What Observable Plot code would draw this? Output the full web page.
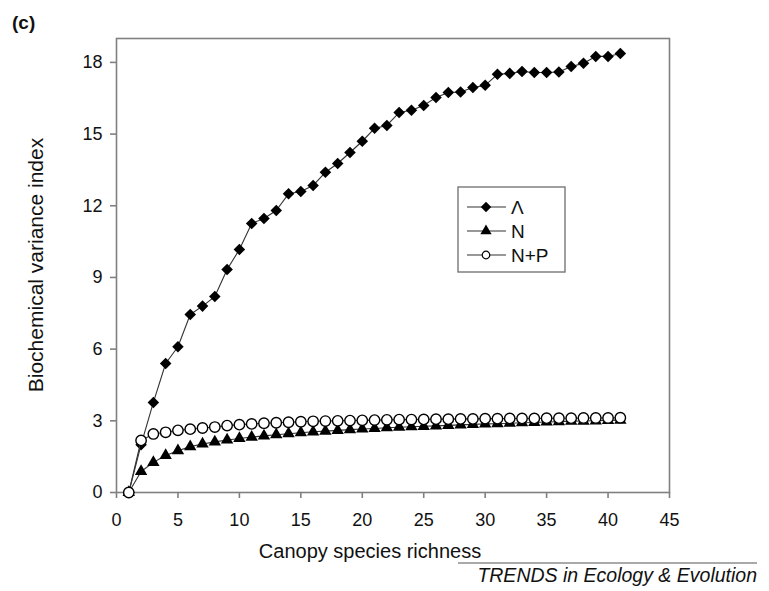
<!DOCTYPE html>
<html>
<head>
<meta charset="utf-8">
<script src="https://cdn.jsdelivr.net/npm/d3@7"></script>
<script src="https://cdn.jsdelivr.net/npm/@observablehq/plot@0.6"></script>
<style>
  body { margin: 0; background: #fff; }
  #chart { position: relative; width: 769px; height: 591px; }
</style>
</head>
<body>
<div id="chart"></div>
<script>
const richness = [1,2,3,4,5,6,7,8,9,10,11,12,13,14,15,16,17,18,19,20,21,22,23,24,25,26,27,28,29,30,31,32,33,34,35,36,37,38,39,40,41];
const lambdaVals = [0,2.0,3.77,5.4,6.1,7.45,7.8,8.2,9.33,10.17,11.26,11.47,11.8,12.5,12.6,12.85,13.4,13.77,14.23,14.7,15.24,15.36,15.9,16.0,16.2,16.53,16.74,16.76,16.95,17.04,17.5,17.54,17.62,17.58,17.58,17.6,17.83,17.96,18.25,18.25,18.37];
const nVals = [0,0.88,1.26,1.55,1.75,1.92,2.03,2.12,2.2,2.26,2.32,2.37,2.42,2.46,2.5,2.54,2.57,2.6,2.63,2.66,2.68,2.71,2.73,2.75,2.77,2.79,2.81,2.83,2.85,2.87,2.88,2.9,2.92,2.93,2.95,2.96,2.98,2.99,3.0,3.02,3.03];
const npVals = [0,2.18,2.45,2.52,2.6,2.65,2.7,2.74,2.8,2.84,2.87,2.9,2.92,2.94,2.96,2.98,2.99,3.0,3.01,3.02,3.03,3.04,3.05,3.05,3.06,3.07,3.07,3.08,3.08,3.09,3.09,3.1,3.1,3.1,3.11,3.11,3.11,3.12,3.12,3.12,3.13];
const xTicks = [0,5,10,15,20,25,30,35,40,45];
const yTicks = [0,3,6,9,12,15,18];
const seriesNames = ["\u039B", "N", "N+P"];

const mk = vals => richness.map((x, i) => ({x, y: vals[i]}));
const dL = mk(lambdaVals), dN = mk(nVals), dNP = mk(npVals);

const font = "'Liberation Sans', Arial, sans-serif";
const plot = Plot.plot({
  width: 769,
  height: 591,
  marginTop: 38,
  marginLeft: 116,
  marginRight: 100,
  marginBottom: 99,
  style: {fontFamily: font, fontSize: "18px", color: "#111", background: "#fff"},
  x: {domain: [0, 45]},
  y: {domain: [0, 19]},
  marks: [
    Plot.frame({stroke: "#808080", strokeWidth: 1.6}),
    Plot.axisX({ticks: xTicks, tickSize: 6, tickPadding: 15, label: null, stroke: "#808080", strokeWidth: 1.6, fill: "#111"}),
    Plot.axisY({ticks: yTicks, tickSize: 6, tickPadding: 8, label: null, stroke: "#808080", strokeWidth: 1.6, fill: "#111"}),
    Plot.line(dL, {x: "x", y: "y", stroke: "#333", strokeWidth: 1.1}),
    Plot.dot(dL, {x: "x", y: "y", symbol: "diamond2", r: 5.2, fill: "#000", stroke: "none"}),
    Plot.line(dN, {x: "x", y: "y", stroke: "#333", strokeWidth: 1.1}),
    Plot.dot(dN, {x: "x", y: "y", symbol: "triangle", r: 4.6, fill: "#000", stroke: "none"}),
    Plot.line(dNP, {x: "x", y: "y", stroke: "#333", strokeWidth: 1.1}),
    Plot.dot(dNP, {x: "x", y: "y", symbol: "circle", r: 5.2, fill: "#fff", stroke: "#000", strokeWidth: 1.4})
  ]
});
document.getElementById("chart").appendChild(plot);

const svg = d3.select(plot);
const txt = () => svg.append("text").attr("font-family", font).attr("fill", "#111").attr("text-anchor", "start");
// panel label
txt().attr("x", 12).attr("y", 29).attr("font-weight", "bold").attr("font-size", 19).text("(c)");
// axis titles
txt().attr("x", 370).attr("y", 558).attr("text-anchor", "middle").attr("font-size", 20).text("Canopy species richness");
txt().attr("transform", "translate(43,265) rotate(-90)").attr("text-anchor", "middle").attr("font-size", 21).text("Biochemical variance index");
// footer
svg.append("line").attr("x1", 458).attr("x2", 757).attr("y1", 563).attr("y2", 563).attr("stroke", "#555").attr("stroke-width", 1);
txt().attr("x", 757).attr("y", 582).attr("text-anchor", "end").attr("font-style", "italic").attr("font-size", 19.5).text("TRENDS in Ecology & Evolution");

// legend
const lg = svg.append("g");
lg.append("rect").attr("x", 458).attr("y", 187).attr("width", 107).attr("height", 85).attr("fill", "#fff").attr("stroke", "#777").attr("stroke-width", 1.4);
const symbols = [d3.symbolDiamond2, d3.symbolTriangle, d3.symbolCircle];
const sizes = [70, 55, 45];
seriesNames.forEach((name, i) => {
  const cy = 207 + i * 24;
  lg.append("line").attr("x1", 467).attr("x2", 506).attr("y1", cy).attr("y2", cy).attr("stroke", "#333").attr("stroke-width", 1.1);
  lg.append("path").attr("transform", `translate(486,${cy})`).attr("d", d3.symbol(symbols[i], sizes[i])())
    .attr("fill", i === 2 ? "#fff" : "#000").attr("stroke", i === 2 ? "#000" : "none").attr("stroke-width", 1.2);
  lg.append("text").attr("x", 511).attr("y", cy + 7).attr("text-anchor", "start").attr("font-family", font).attr("font-size", 19).attr("fill", "#111").text(name);
});
</script>
</body>
</html>
